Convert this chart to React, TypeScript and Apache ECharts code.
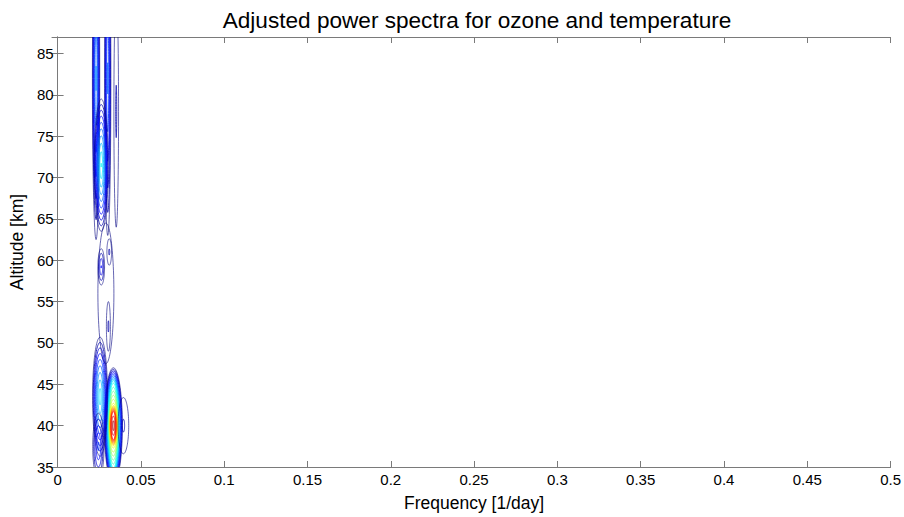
import React, { useEffect, useRef } from "react";
import * as echarts from "echarts";

// Axis ranges / ticks
const xTickValues = [0, 0.05, 0.1, 0.15, 0.2, 0.25, 0.3, 0.35, 0.4, 0.45, 0.5];
const yTickValues = [35, 40, 45, 50, 55, 60, 65, 70, 75, 80, 85];
const yMin = 35;
const yMax = 87;

// Spectral peaks (centre frequency, centre altitude,
// half-width of outermost contour in frequency and altitude, peak level 0..1)
const peakFreq = [0.0335, 0.0255, 0.0231, 0.0301, 0.0262, 0.0352, 0.029, 0.0262, 0.031, 0.0395, 0.0245, 0.0305];
const peakAlt = [40, 43.5, 82, 82, 71.5, 78, 56, 59.2, 61, 40, 37.5, 52];
const peakHalfWidth = [0.0054, 0.0045, 0.0022, 0.0019, 0.0042, 0.0014, 0.0048, 0.002, 0.0014, 0.0032, 0.0034, 0.0012];
const peakHalfHeight = [7.0, 7.2, 19.5, 19, 8.0, 14, 8.5, 2.2, 1.6, 3.4, 4, 3];
const peakLevel = [1.0, 0.4, 0.3, 0.26, 0.42, 0.09, 0.06, 0.17, 0.09, 0.09, 0.22, 0.09];

// Shape of the main (ozone/temperature) peak: relative level vs. ring size
const mainProfileLevel = [0.0, 0.375, 0.625, 0.875, 1.0];
const mainProfileRadiusX = [1.0, 0.55, 0.42, 0.25, 0.0];
const mainProfileRadiusY = [1.0, 0.76, 0.36, 0.24, 0.0];

const levelStep = 1 / 24;

function jet(v: number): string {
  const c = (x: number) => Math.max(0, Math.min(1, x));
  const r = c(1.5 - Math.abs(4 * v - 3));
  const g = c(1.5 - Math.abs(4 * v - 2));
  const b = c(1.5 - Math.abs(4 * v - 1));
  return `rgb(${Math.round(r * 255)},${Math.round(g * 255)},${Math.round(b * 255)})`;
}

function interp(xs: number[], ys: number[], x: number): number {
  if (x <= xs[0]) return ys[0];
  for (let i = 1; i < xs.length; i++) {
    if (x <= xs[i]) {
      const t = (x - xs[i - 1]) / (xs[i] - xs[i - 1]);
      return ys[i - 1] + t * (ys[i] - ys[i - 1]);
    }
  }
  return ys[ys.length - 1];
}

function buildRings(): number[][] {
  const rings: number[][] = [];
  for (let i = 0; i < peakFreq.length; i++) {
    const p = peakLevel[i];
    if (p <= levelStep) continue;
    for (let k = 1; k * levelStep < p; k++) {
      const L = k * levelStep;
      let fx: number;
      let fy: number;
      if (i === 0) {
        const rel = (L - levelStep) / (p - levelStep);
        fx = interp(mainProfileLevel, mainProfileRadiusX, rel);
        fy = interp(mainProfileLevel, mainProfileRadiusY, rel);
      } else {
        const x = (p - L) / (p - levelStep);
        fx = Math.pow(x, 0.75);
        fy = fx;
      }
      const v = (L - levelStep) / (1 - levelStep);
      rings.push([peakFreq[i], peakAlt[i], peakHalfWidth[i] * fx, peakHalfHeight[i] * fy, v]);
    }
  }
  return rings;
}

export default function App() {
  const ref = useRef<HTMLDivElement>(null);
  useEffect(() => {
    if (!ref.current) return;
    const chart = echarts.init(ref.current, undefined, { renderer: "svg" });
    const rings = buildRings();
    const axisColor = "#7a7a7a";
    const font = "Liberation Sans, Arial, Helvetica, sans-serif";
    const N = 96;

    const renderItem = (params: any, api: any) => {
      const cx = api.value(0);
      const cy = api.value(1);
      const rx = api.value(2);
      const ry = api.value(3);
      const v = api.value(4);
      const color = jet(v);
      const pts: number[][] = [];
      const inside: boolean[] = [];
      for (let j = 0; j < N; j++) {
        const t = (j / N) * Math.PI * 2;
        const x = cx + rx * Math.cos(t);
        const y = cy + ry * Math.sin(t);
        pts.push([x, y]);
        inside.push(y >= yMin && y <= yMax && x >= 0);
      }
      const style = { stroke: color, fill: "none", lineWidth: v < 0.01 ? 0.6 : 0.8 };
      if (inside.every((b) => b)) {
        return {
          type: "polygon",
          shape: { points: pts.map((p) => api.coord(p)) },
          style,
          silent: true,
        };
      }
      const clampP = (p: number[]) => [p[0], Math.max(yMin, Math.min(yMax, p[1]))];
      const start = inside.findIndex((b) => !b);
      const children: any[] = [];
      let run: number[][] = [];
      for (let s = 1; s <= N; s++) {
        const j = (start + s) % N;
        if (inside[j]) {
          if (run.length === 0) run.push(clampP(pts[(j - 1 + N) % N]));
          run.push(pts[j]);
        } else if (run.length) {
          run.push(clampP(pts[j]));
          children.push({
            type: "polyline",
            shape: { points: run.map((p) => api.coord(p)) },
            style,
            silent: true,
          });
          run = [];
        }
      }
      if (run.length) {
        children.push({
          type: "polyline",
          shape: { points: run.map((p) => api.coord(p)) },
          style,
          silent: true,
        });
      }
      return { type: "group", children };
    };

    const commonX = {
      type: "value",
      min: 0,
      max: 0.5,
      interval: 0.05,
      splitLine: { show: false },
      axisLine: { show: true, lineStyle: { color: axisColor, width: 1 } },
      axisTick: { show: true, inside: true, length: 6, lineStyle: { color: axisColor } },
    };
    const commonY = {
      type: "value",
      min: yMin,
      max: yMax,
      interval: 5,
      splitLine: { show: false },
      axisLine: { show: true, lineStyle: { color: axisColor, width: 1 } },
      axisTick: { show: true, inside: true, length: 6, lineStyle: { color: axisColor } },
    };

    chart.setOption({
      animation: false,
      backgroundColor: "#ffffff",
      title: {
        text: "Adjusted power spectra for ozone and temperature",
        left: 472,
        top: 4,
        textAlign: "center",
        textStyle: { fontSize: 22.6, fontWeight: "normal", color: "#000", fontFamily: font },
      },
      grid: { left: 50, top: 37, width: 843, height: 441, containLabel: false },
      xAxis: [
        {
          ...commonX,
          position: "bottom",
          name: "Frequency [1/day]",
          nameLocation: "middle",
          nameGap: 27,
          nameTextStyle: { fontSize: 17.5, color: "#000", fontFamily: font },
          axisLabel: {
            show: true,
            color: "#000",
            fontSize: 15,
            fontFamily: font,
            margin: 5,
            formatter: (val: number) => {
              const hit = xTickValues.find((t) => Math.abs(t - val) < 1e-9);
              return hit === undefined ? "" : String(hit);
            },
          },
        },
        { ...commonX, position: "top", axisLabel: { show: false } },
      ],
      yAxis: [
        {
          ...commonY,
          position: "left",
          name: "Altitude [km]",
          nameLocation: "middle",
          nameGap: 30,
          nameTextStyle: { fontSize: 17.5, color: "#000", fontFamily: font, padding: [0, 0, 0, 20] },
          axisLabel: {
            show: true,
            color: "#000",
            fontSize: 15,
            fontFamily: font,
            margin: 4,
            showMaxLabel: false,
            formatter: (val: number) => (yTickValues.includes(val) ? String(val) : ""),
          },
        },
        { ...commonY, position: "right", axisLabel: { show: false } },
      ],
      series: [
        {
          type: "custom",
          coordinateSystem: "cartesian2d",
          xAxisIndex: 0,
          yAxisIndex: 0,
          renderItem,
          data: rings,
          encode: { x: [0], y: [1] },
          silent: true,
        },
      ],
    });
    return () => chart.dispose();
  }, []);
  return (
    <div
      ref={ref}
      style={{ position: "fixed", left: 0, top: 0, width: 904, height: 517, background: "#fff" }}
    />
  );
}
